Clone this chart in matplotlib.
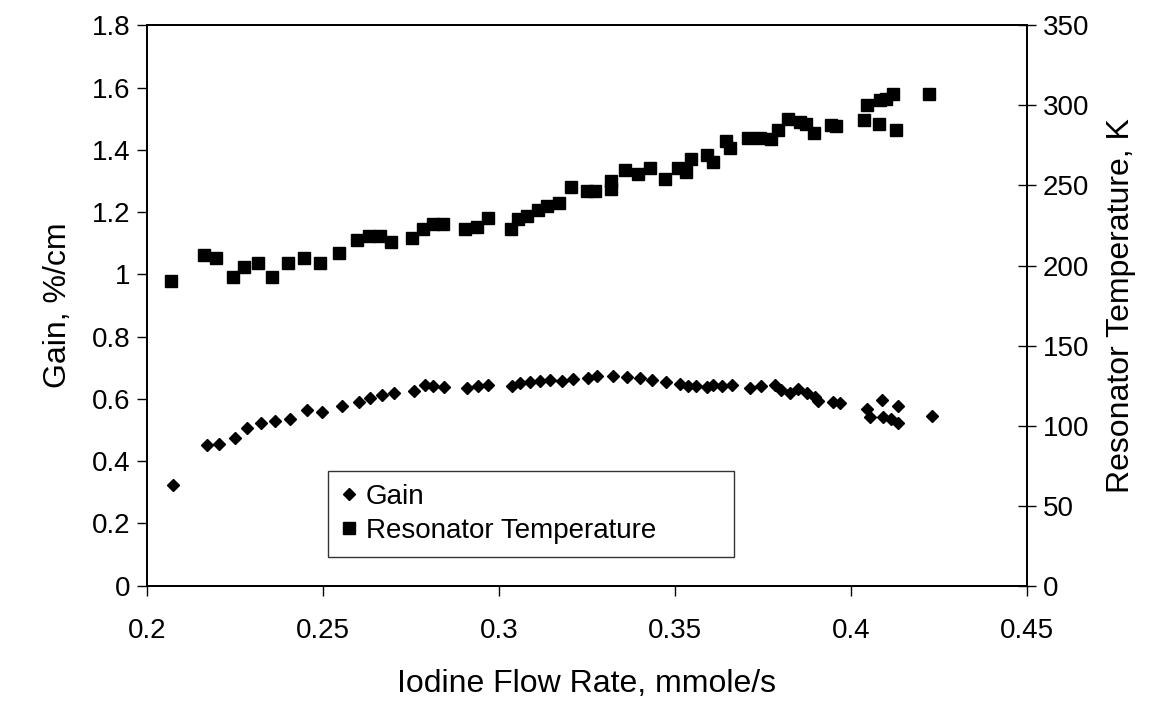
import matplotlib
matplotlib.use("Agg")
import matplotlib.pyplot as plt
import numpy as np

plt.rcParams['font.family'] = ['Liberation Sans', 'DejaVu Sans']

# Gain data (diamonds, left axis)
gain_x = [0.2073, 0.2170, 0.2205, 0.2250, 0.2283, 0.2324, 0.2362, 0.2406, 0.2454, 0.2496,
          0.2553, 0.2603, 0.2634, 0.2667, 0.2700, 0.2757, 0.2790, 0.2812, 0.2844, 0.2908,
          0.2941, 0.2970, 0.3036, 0.3060, 0.3088, 0.3117, 0.3145, 0.3178, 0.3211, 0.3254,
          0.3278, 0.3323, 0.3363, 0.3400, 0.3434, 0.3476, 0.3514, 0.3538, 0.3561, 0.3590,
          0.3609, 0.3633, 0.3661, 0.3713, 0.3746, 0.3784, 0.3803, 0.3827, 0.3850, 0.3876,
          0.3898, 0.3907, 0.3950, 0.3969, 0.4045, 0.4056, 0.4088, 0.4092, 0.4115, 0.4135,
          0.4135, 0.4232]
gain_y = [0.324, 0.452, 0.455, 0.476, 0.508, 0.522, 0.530, 0.535, 0.565, 0.559,
          0.577, 0.591, 0.602, 0.613, 0.618, 0.626, 0.645, 0.640, 0.637, 0.634,
          0.640, 0.645, 0.640, 0.650, 0.653, 0.659, 0.661, 0.656, 0.663, 0.666,
          0.675, 0.674, 0.670, 0.666, 0.661, 0.653, 0.648, 0.642, 0.642, 0.638,
          0.645, 0.640, 0.645, 0.636, 0.642, 0.645, 0.629, 0.620, 0.631, 0.620,
          0.607, 0.594, 0.591, 0.586, 0.567, 0.541, 0.595, 0.543, 0.535, 0.577,
          0.524, 0.545]

# Resonator temperature data (squares, right axis)
temp_x = [0.2067, 0.2160, 0.2196, 0.2243, 0.2276, 0.2316, 0.2355, 0.2399, 0.2446, 0.2491,
          0.2545, 0.2597, 0.2629, 0.2662, 0.2692, 0.2752, 0.2785, 0.2813, 0.2840, 0.2903,
          0.2937, 0.2968, 0.3033, 0.3055, 0.3080, 0.3112, 0.3137, 0.3171, 0.3206, 0.3249,
          0.3273, 0.3317, 0.3317, 0.3358, 0.3396, 0.3429, 0.3472, 0.3510, 0.3533, 0.3547,
          0.3590, 0.3609, 0.3645, 0.3656, 0.3708, 0.3741, 0.3774, 0.3793, 0.3822, 0.3855,
          0.3874, 0.3895, 0.3945, 0.3959, 0.4037, 0.4047, 0.4080, 0.4082, 0.4101, 0.4120,
          0.4128, 0.4222]
temp_y = [190.5, 206.5, 204.4, 193.0, 198.8, 201.3, 193.0, 201.3, 204.4, 201.3,
          207.9, 215.8, 218.3, 218.3, 214.8, 217.3, 222.5, 225.8, 225.8, 222.7,
          224.1, 229.4, 223.1, 228.8, 230.8, 234.6, 237.1, 239.1, 249.1, 246.4,
          246.4, 248.0, 252.5, 259.5, 257.4, 260.6, 254.3, 260.6, 258.5, 266.8,
          268.9, 264.7, 277.6, 273.7, 279.9, 279.9, 279.3, 284.5, 291.8, 289.7,
          288.6, 282.8, 287.6, 287.0, 290.7, 300.1, 288.6, 303.2, 304.2, 307.3,
          284.9, 307.3]

x_ticks = [0.2, 0.25, 0.3, 0.35, 0.4, 0.45]
x_ticklabels = ['0.2', '0.25', '0.3', '0.35', '0.4', '0.45']
gain_ticks = [0, 0.2, 0.4, 0.6, 0.8, 1.0, 1.2, 1.4, 1.6, 1.8]
gain_ticklabels = ['0', '0.2', '0.4', '0.6', '0.8', '1', '1.2', '1.4', '1.6', '1.8']
temp_ticks = [0, 50, 100, 150, 200, 250, 300, 350]

fig, ax = plt.subplots(figsize=(11.6, 7.04), dpi=100)
fig.subplots_adjust(left=0.127, right=0.885, bottom=0.168, top=0.964)
ax2 = ax.twinx()

l1, = ax.plot(gain_x, gain_y, linestyle='none', marker='D', markersize=6.5,
              color='black', label='Gain')
l2, = ax2.plot(temp_x, temp_y, linestyle='none', marker='s', markersize=8.5,
               color='black', label='Resonator Temperature')

ax.set_xlim(0.2, 0.45)
ax.set_ylim(0, 1.8)
ax2.set_ylim(0, 350)
ax.set_xticks(x_ticks)
ax.set_xticklabels(x_ticklabels)
ax.set_yticks(gain_ticks)
ax.set_yticklabels(gain_ticklabels)
ax2.set_yticks(temp_ticks)

ax.tick_params(axis='x', direction='out', length=7, width=1, labelsize=20, pad=16)
ax.tick_params(axis='y', direction='out', length=7, width=1, labelsize=20, pad=5)
ax2.tick_params(axis='y', direction='inout', length=13, width=1, labelsize=20, pad=5)

for a in (ax, ax2):
    for s in a.spines.values():
        s.set_linewidth(1.3)
        s.set_color('black')

ax.set_xlabel('Iodine Flow Rate, mmole/s', fontsize=23, labelpad=18)
ax.set_ylabel('Gain, %/cm', fontsize=23, labelpad=14)
ax2.set_ylabel('Resonator Temperature, K', fontsize=23, labelpad=12)

leg = ax2.legend(handles=[l1, l2], loc='lower left',
                 bbox_to_anchor=(0.206, 0.052, 0.461, 0.158), mode='expand',
                 fontsize=20, frameon=True, fancybox=False, handlelength=0.6,
                 handletextpad=0.3, borderpad=0.45, labelspacing=0.3,
                 borderaxespad=0)
leg.get_frame().set_edgecolor('black')
leg.get_frame().set_linewidth(1.0)

fig.savefig('out.png', dpi=100)
